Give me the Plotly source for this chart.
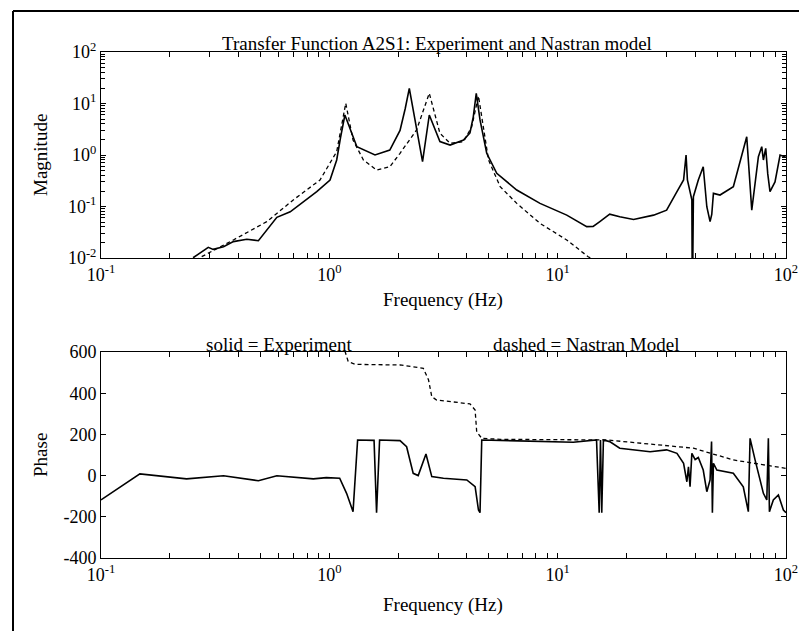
import math
import plotly.graph_objects as go

# Experiment magnitude (solid)
exp_mag_f = [0.253, 0.295, 0.310, 0.344, 0.380, 0.435, 0.489, 0.589, 0.674, 0.769, 0.881,
             1.007, 1.077, 1.12, 1.17, 1.32, 1.585, 1.84, 2.04, 2.15, 2.24, 2.56, 2.74, 3.05,
             3.38, 3.87, 4.13, 4.27, 4.40, 4.57, 4.89, 5.41, 6.62, 8.37, 10.96, 13.4, 14.3,
             15.3, 16.9, 18.7, 21.5, 26.3, 30.0, 33.3, 35.6, 36.5, 37.0, 38.7, 38.9, 39.3,
             41.3, 43.4, 45.0, 46.5, 47.3, 48.1, 51.4, 58.8, 67.3, 70.8, 75.7, 78.3, 79.6,
             81.5, 83.2, 85.1, 89.5, 94.2, 100.0]
exp_mag = [0.0101, 0.0161, 0.0147, 0.0166, 0.0208, 0.0231, 0.0217, 0.0617, 0.079, 0.124, 0.194,
           0.327, 0.80, 2.2, 5.98, 1.45, 1.0, 1.25, 3.0, 8.0, 19.7, 0.74, 5.98, 1.82,
           1.56, 1.95, 2.7, 5.5, 15.8, 4.8, 1.08, 0.44, 0.209, 0.115, 0.068, 0.0406, 0.041,
           0.051, 0.071, 0.063, 0.056, 0.068, 0.085, 0.194, 0.327, 1.0, 0.33, 0.134, 0.001, 0.155,
           0.327, 0.59, 0.099, 0.051, 0.07, 0.18, 0.167, 0.243, 2.26, 0.085, 0.93, 1.45, 0.80,
           1.35, 0.43, 0.194, 0.3, 1.0, 0.9]

# Nastran model magnitude (dashed)
mod_mag_f = [0.26, 0.276, 0.380, 0.532, 0.695, 0.910, 1.077, 1.18, 1.27, 1.41, 1.61, 1.84,
             2.04, 2.41, 2.74, 3.05, 3.38, 3.87, 4.2, 4.5, 4.98, 5.60, 6.62, 8.37, 10.96,
             13.6, 14.5]
mod_mag = [0.009, 0.0106, 0.0224, 0.0507, 0.134, 0.327, 1.16, 10.1, 1.95, 0.80, 0.51, 0.59,
           1.08, 3.06, 15.8, 2.64, 1.69, 1.82, 3.5, 14.0, 0.8, 0.243, 0.115, 0.047, 0.0224,
           0.0106, 0.009]

# Experiment phase (solid)
exp_ph_f = [0.1, 0.148, 0.237, 0.344, 0.489, 0.589, 0.851, 0.97, 1.11, 1.19, 1.27, 1.33,
            1.57, 1.61, 1.66, 2.04, 2.18, 2.33, 2.45, 2.65, 2.81, 3.16, 4.00, 4.35, 4.50,
            4.57, 4.65, 7.83, 11.7, 14.8, 15.2, 15.4, 15.6, 15.86, 16.9, 18.7, 25.4, 30.0,
            33.3, 35.6, 36.8, 37.4, 38.0, 38.7, 40.0, 41.3, 43.4, 45.0, 46.5, 47.2, 47.6,
            48.1, 49.8, 58.8, 65.0, 68.4, 69.6, 73.2, 79.6, 82.4, 83.7, 84.6, 88.0, 92.6,
            97.4, 100.0]
exp_ph = [-118, 8, -16, -1, -25, -1, -16, -10, -13, -86, -175, 173,
          171, -180, 173, 170, 140, 11, 0, 105, -5, -13, -21, -54, -167,
          -180, 173, 165, 162, 173, -180, 173, -180, 173, 165, 133, 116, 125,
          108, 60, -30, 43, -54, 108, 78, 88, 27, -78, -21, 165, -180,
          60, 27, 11, -54, -175, 181, 76, -86, -118, 181, -175, -118, -94,
          -167, -180]

# Nastran model phase (dashed)
mod_ph_f = [1.17, 1.21, 1.3, 2.04, 2.58, 2.72, 2.81, 2.95, 4.13, 4.35, 4.42, 4.65, 5.6,
            16.4, 39.3, 58.8, 100.0]
mod_ph = [605, 553, 540, 537, 521, 464, 383, 367, 348, 318, 213, 181, 176,
          173, 133, 76, 35]

# tick labels
x_decades = [0.1, 1, 10, 100]
y_decades = [0.01, 0.1, 1, 10, 100]
phase_ticks = [-400, -200, 0, 200, 400, 600]

# page is placed 8px in from the corner by the html body margin
PAGE = 8
W, H = 807, 631
L, R, T, B = 101, 786, 52, 558
FONT = "Liberation Serif"


def px(x):
    return (x - L) / (R - L)


def py(y):
    return (B - y) / (B - T)


def decade_labels(decades):
    return [f"10<sup>{round(math.log10(d))}</sup>" for d in decades]


def minor_vals(decades):
    return [d * k for d in decades[:-1] for k in range(2, 10)]


fig = go.Figure()
fig.add_trace(go.Scatter(x=exp_mag_f, y=exp_mag, mode="lines",
                         line=dict(color="black", width=1.6), xaxis="x", yaxis="y"))
fig.add_trace(go.Scatter(x=mod_mag_f, y=mod_mag, mode="lines",
                         line=dict(color="black", width=1.3, dash="4px,3px"), xaxis="x", yaxis="y"))
fig.add_trace(go.Scatter(x=exp_ph_f, y=exp_ph, mode="lines",
                         line=dict(color="black", width=1.6), xaxis="x2", yaxis="y2"))
fig.add_trace(go.Scatter(x=mod_ph_f, y=mod_ph, mode="lines",
                         line=dict(color="black", width=1.3, dash="4px,3px"), xaxis="x2", yaxis="y2"))

common = dict(showline=True, linecolor="black", linewidth=1, mirror="ticks",
              ticks="inside", ticklen=5, tickcolor="black", showgrid=False, zeroline=False,
              tickfont=dict(family=FONT, size=18, color="black"))
xcommon = dict(common, type="log", range=[-1, 2], tickvals=x_decades,
               ticktext=decade_labels(x_decades),
               minor=dict(tickvals=minor_vals(x_decades), ticks="inside", ticklen=5,
                          tickcolor="black", showgrid=False))

fig.update_layout(
    width=W - PAGE, height=H - PAGE,
    margin=dict(l=L - PAGE, r=W - R, t=T - PAGE, b=H - B, autoexpand=False),
    paper_bgcolor="white", plot_bgcolor="white",
    showlegend=False,
    font=dict(family=FONT, color="black"),
    xaxis=dict(xcommon, anchor="y", domain=[0, 1]),
    yaxis=dict(common, type="log", range=[-2, 2], domain=[py(258), 1], anchor="x",
               tickvals=y_decades, ticktext=decade_labels(y_decades),
               minor=dict(tickvals=minor_vals(y_decades), ticks="inside", ticklen=4,
                          tickcolor="black", showgrid=False)),
    xaxis2=dict(xcommon, anchor="y2", domain=[0, 1]),
    yaxis2=dict(common, range=[-400, 600], domain=[0, py(352)], anchor="x2",
                tickvals=phase_ticks, ticktext=[str(v) for v in phase_ticks]),
)

# text
texts = [
    ("Transfer Function A2S1: Experiment and Nastran model", 437, 43, 0),
    ("Magnitude", 40, 155, -90),
    ("Frequency (Hz)", 443, 300, 0),
    ("solid = Experiment", 279, 344, 0),
    ("dashed = Nastran Model", 586, 344, 0),
    ("Phase", 40, 455, -90),
    ("Frequency (Hz)", 443, 605, 0),
]
for t, x, y, ang in texts:
    fig.add_annotation(text=t, x=px(x), y=py(y), xref="paper", yref="paper",
                       showarrow=False, textangle=ang, xanchor="center", yanchor="middle",
                       font=dict(family=FONT, size=19, color="black"))

# page frame (top and left edges visible)
fig.add_shape(type="line", xref="paper", yref="paper", x0=px(13), x1=px(810),
              y0=py(11), y1=py(11), line=dict(color="black", width=2))
fig.add_shape(type="line", xref="paper", yref="paper", x0=px(13), x1=px(13),
              y0=py(11), y1=py(640), line=dict(color="black", width=2))

fig.write_html("out.html")
